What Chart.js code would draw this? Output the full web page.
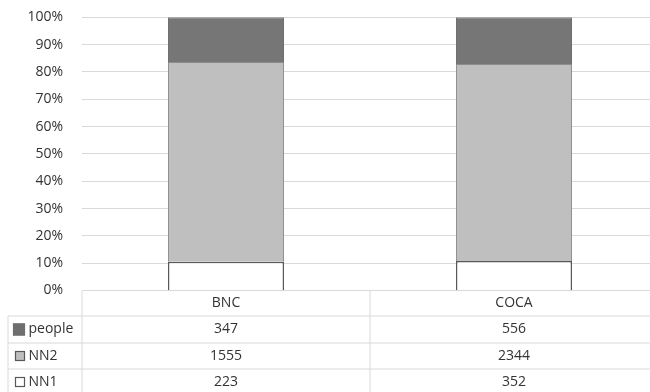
<!DOCTYPE html>
<html>
<head>
<meta charset="utf-8">
<script src="https://cdn.jsdelivr.net/npm/chart.js@4"></script>
<style>
  html, body { margin: 0; padding: 0; background: #fff; overflow: hidden; }
  #wrap { position: relative; width: 658px; height: 392px; }
</style>
</head>
<body>
<div id="wrap"><canvas id="myChart" width="658" height="392"></canvas></div>
<script>
// corpus columns
const categories = ['BNC', 'COCA'];
// raw counts, the bars show each one as a share of the column total
const nn1 = [223, 352];
const nn2 = [1555, 2344];
const people = [347, 556];
const yTicks = [0, 10, 20, 30, 40, 50, 60, 70, 80, 90, 100];

const totals = categories.map((c, i) => nn1[i] + nn2[i] + people[i]);
const pct = arr => arr.map((v, i) => v / totals[i] * 100);

// table rows, top to bottom as in the data table
const tableRows = [
  { name: 'people', values: people, fill: '#6e6e6e', stroke: '#6e6e6e', size: 12 },
  { name: 'NN2', values: nn2, fill: '#bfbfbf', stroke: '#595959', size: 10 },
  { name: 'NN1', values: nn1, fill: '#ffffff', stroke: '#595959', size: 10 }
];

const FONT = '14px "Open Sans", sans-serif';
const TEXT = '#333333';
const LINE = '#d9d9d9';

const dataTable = {
  id: 'dataTable',
  afterDraw(chart) {
    const ctx = chart.ctx;
    const area = chart.chartArea;
    const x = chart.scales.x;
    const top = area.bottom;
    const rowH = [25.5, 27, 26, 26];
    const ys = [top];
    rowH.forEach(h => ys.push(ys[ys.length - 1] + h));
    const legendLeft = 8;
    const c0 = x.getPixelForValue(0), c1 = x.getPixelForValue(1);
    const mid = (c0 + c1) / 2;

    ctx.save();
    ctx.strokeStyle = LINE;
    ctx.lineWidth = 1;
    ctx.beginPath();
    // horizontal lines
    ctx.moveTo(area.left, ys[0]); ctx.lineTo(area.right, ys[0]);
    for (let r = 1; r < ys.length; r++) {
      ctx.moveTo(legendLeft, ys[r]); ctx.lineTo(area.right, ys[r]);
    }
    // vertical lines
    ctx.moveTo(area.left, ys[0]); ctx.lineTo(area.left, ys[ys.length - 1]);
    ctx.moveTo(mid, ys[0]); ctx.lineTo(mid, ys[ys.length - 1]);
    ctx.moveTo(legendLeft, ys[1]); ctx.lineTo(legendLeft, ys[ys.length - 1]);
    ctx.stroke();

    ctx.font = FONT;
    ctx.fillStyle = TEXT;
    ctx.textAlign = 'center';
    ctx.textBaseline = 'middle';
    categories.forEach((c, i) => {
      ctx.fillText(c, x.getPixelForValue(i), (ys[0] + ys[1]) / 2);
    });

    tableRows.forEach((row, r) => {
      const cy = (ys[r + 1] + ys[r + 2]) / 2;
      // legend key, right edge at x=25
      const s = row.size;
      ctx.fillStyle = row.fill;
      ctx.fillRect(25 - s, cy - s / 2, s, s);
      ctx.strokeStyle = row.stroke;
      ctx.lineWidth = 1.2;
      ctx.strokeRect(25.5 - s, cy - s / 2 + 0.5, s - 1, s - 1);
      ctx.fillStyle = TEXT;
      ctx.textAlign = 'left';
      ctx.fillText(row.name, 28.5, cy);
      ctx.textAlign = 'center';
      row.values.forEach((v, i) => {
        ctx.fillText(String(v), x.getPixelForValue(i), cy);
      });
    });
    ctx.restore();
  }
};

const ctx = document.getElementById('myChart').getContext('2d');
new Chart(ctx, {
  type: 'bar',
  data: {
    labels: categories,
    datasets: [
      { label: 'NN1', data: pct(nn1), backgroundColor: '#ffffff', borderColor: '#595959', borderWidth: 1.5 },
      { label: 'NN2', data: pct(nn2), backgroundColor: '#bfbfbf', borderColor: '#8c8c8c', borderWidth: 1 },
      { label: 'people', data: pct(people), backgroundColor: '#767676', borderColor: '#6a6a6a', borderWidth: 1 }
    ]
  },
  options: {
    responsive: false,
    animation: false,
    layout: { padding: { top: 17.3, bottom: 101.5, left: 0, right: 0 } },
    plugins: { legend: { display: false }, tooltip: { enabled: false } },
    datasets: { bar: { barPercentage: 0.403, categoryPercentage: 1 } },
    scales: {
      x: {
        stacked: true,
        display: false
      },
      y: {
        stacked: true,
        min: 0,
        max: 100,
        afterBuildTicks: s => { s.ticks = yTicks.map(v => ({ value: v })); },
        afterFit: s => { s.width = 82; },
        border: { display: false },
        // the tick marks are hidden, their length only sets the label gap
        grid: { color: LINE, drawTicks: true, tickLength: 19, tickColor: 'rgba(0,0,0,0)' },
        ticks: {
          padding: 0,
          color: TEXT,
          font: { family: '"Open Sans", sans-serif', size: 14 },
          callback: v => v + '%'
        }
      }
    }
  },
  plugins: [dataTable]
});
</script>
</body>
</html>
